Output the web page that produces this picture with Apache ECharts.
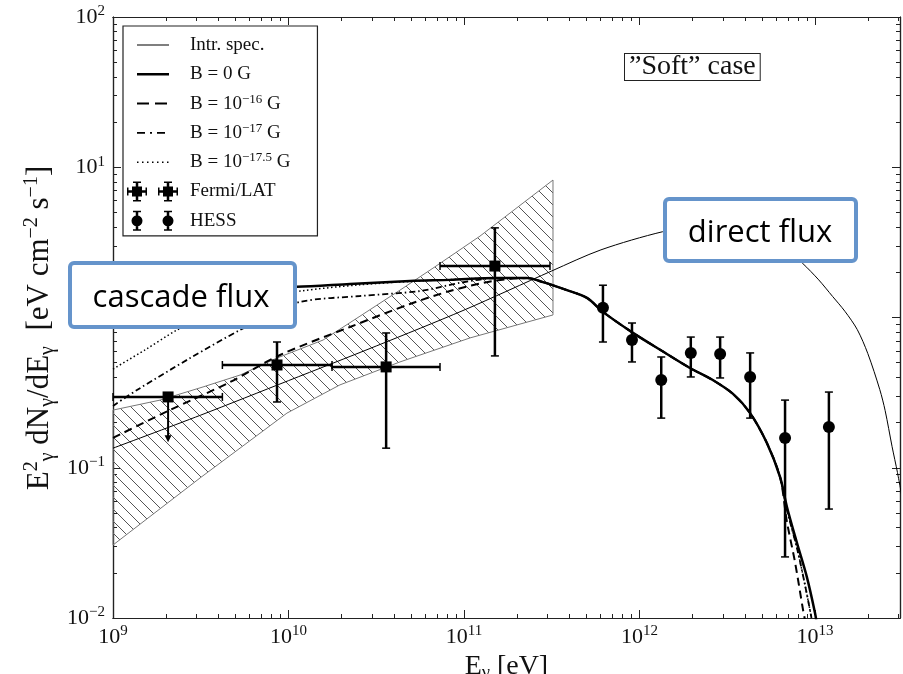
<!DOCTYPE html>
<html>
<head>
<meta charset="utf-8">
<script src="https://cdn.jsdelivr.net/npm/echarts@6/dist/echarts.min.js"></script>
<style>
  html, body { margin: 0; padding: 0; background: #fff; }
  #chart { width: 903px; height: 674px; }
</style>
</head>
<body>
<div id="chart"></div>
<script>
// Photon energy E [eV] and flux E^2 dN/dE [eV cm^-2 s^-1]

// axis ranges and decade tick exponents
const X_MIN = 1e9, X_MAX = 3.05e13;
const Y_MIN = 1e-2, Y_MAX = 1e2;
const xTickExp = [9, 10, 11, 12, 13];
const yTickExp = [-2, -1, 0, 1, 2];

// intrinsic spectrum
const intrE = [1e9, 3.16e9, 1e10, 3.16e10, 1e11, 3.16e11, 6.03e11, 1.35e12, 2.24e12, 3.72e12, 5.5e12, 8.51e12, 1.05e13, 1.26e13, 1.48e13, 1.74e13, 2.0e13, 2.34e13, 2.51e13, 2.75e13, 2.95e13, 3.16e13];
const intrF = [0.135, 0.224, 0.380, 0.646, 1.12, 2.04, 2.82, 3.72, 4.07, 4.17, 3.63, 2.29, 1.78, 1.38, 1.10, 0.832, 0.575, 0.331, 0.240, 0.138, 0.093, 0.060];

// observed spectrum, B = 0 G
const b0E = [1e9, 3.13e9, 1.117e10, 2.24e10, 4.92e10, 8.32e10, 1.54e11, 2.29e11, 2.82e11, 3.86e11, 5.02e11, 6.19e11, 9.18e11, 1.31e12, 1.94e12, 2.6e12, 3.41e12, 4.27e12, 5.32e12, 6.32e12, 6.92e12, 7.89e12, 8.99e12, 1.0e13, 1.026e13];
const b0F = [1.48, 1.52, 1.60, 1.67, 1.75, 1.78, 1.83, 1.83, 1.72, 1.52, 1.35, 1.09, 0.79, 0.61, 0.461, 0.385, 0.310, 0.231, 0.146, 0.0868, 0.0548, 0.0316, 0.0187, 0.0108, 0.0090];

// B = 1e-16 G
const b16E = [1e9, 2.11e9, 4.65e9, 8.95e9, 2.24e10, 4.92e10, 8.32e10, 1.46e11, 2.29e11, 2.82e11, 3.86e11, 5.02e11, 6.19e11, 9.18e11, 1.31e12, 1.94e12, 2.6e12, 3.41e12, 4.27e12, 5.32e12, 6.32e12, 6.92e12, 7.69e12, 8.55e12, 8.77e12];
const b16F = [0.158, 0.242, 0.372, 0.563, 0.865, 1.23, 1.50, 1.75, 1.83, 1.72, 1.52, 1.35, 1.09, 0.79, 0.61, 0.461, 0.385, 0.310, 0.231, 0.146, 0.0868, 0.0436, 0.0236, 0.0113, 0.0097];

// B = 1e-17 G
const b17E = [1e9, 1.37e9, 2.75e9, 5.30e9, 7.85e9, 1.164e10, 2.55e10, 5.61e10, 9.48e10, 1.54e11, 2.29e11, 2.82e11, 3.86e11, 5.02e11, 6.19e11, 9.18e11, 1.31e12, 1.94e12, 2.6e12, 3.41e12, 4.27e12, 5.32e12, 6.32e12, 6.92e12, 7.89e12, 8.77e12, 9.55e12];
const b17F = [0.258, 0.329, 0.537, 0.826, 1.02, 1.27, 1.39, 1.50, 1.70, 1.83, 1.83, 1.72, 1.52, 1.35, 1.09, 0.79, 0.61, 0.461, 0.385, 0.310, 0.231, 0.146, 0.0868, 0.0524, 0.0292, 0.0166, 0.0100];

// B = 1e-17.5 G
const b175E = [1e9, 1.52e9, 2.32e9, 4.07e9, 6.89e9, 1.164e10, 2.55e10, 5.61e10, 1.54e11, 2.29e11, 2.82e11, 3.86e11, 5.02e11, 6.19e11, 9.18e11, 1.31e12, 1.94e12, 2.6e12, 3.41e12, 4.27e12, 5.32e12, 6.32e12, 6.92e12, 7.89e12, 8.77e12, 9.55e12];
const b175F = [0.454, 0.608, 0.826, 1.12, 1.35, 1.50, 1.65, 1.75, 1.83, 1.83, 1.72, 1.52, 1.35, 1.09, 0.79, 0.61, 0.461, 0.385, 0.310, 0.231, 0.146, 0.0868, 0.0524, 0.0292, 0.0166, 0.0100];

// Fermi/LAT butterfly (upper and lower envelope)
const bandUpE = [1e9, 1.854e9, 3.258e9, 5.297e9, 8.59e9, 1.574e10, 2.553e10, 4.315e10, 6.653e10, 1.233e11, 3.214e11];
const bandUpF = [0.242, 0.282, 0.345, 0.414, 0.537, 0.708, 1.02, 1.52, 2.13, 3.48, 8.22];
const bandLoE = [1e9, 3.133e9, 9.795e9, 1.963e10, 4.315e10, 1.081e11, 3.214e11];
const bandLoF = [0.0306, 0.0855, 0.231, 0.356, 0.506, 0.731, 1.04];

// Fermi/LAT points (first one is an upper limit)
const fermiE   = [2.06e9, 8.6e9, 3.6e10, 1.50e11];
const fermiF   = [0.296, 0.483, 0.469, 2.20];
const fermiElo = [1e9, 4.2e9, 1.77e10, 7.3e10];
const fermiEhi = [4.2e9, 1.77e10, 7.3e10, 3.09e11];
const fermiFlo = [0.148, 0.274, 0.135, 0.555];
const fermiFhi = [0.296, 0.687, 0.789, 3.95];
const fermiUL  = [true, false, false, false];

// HESS points
const hessE   = [6.19e11, 9.06e11, 1.33e12, 1.96e12, 2.88e12, 4.27e12, 6.75e12, 1.20e13];
const hessF   = [1.16, 0.708, 0.384, 0.581, 0.571, 0.402, 0.158, 0.187];
const hessFlo = [0.687, 0.506, 0.214, 0.402, 0.396, 0.214, 0.0255, 0.0531];
const hessFhi = [1.64, 0.919, 0.546, 0.741, 0.741, 0.581, 0.282, 0.319];

// ---------------------------------------------------------------------------
const LOG = Math.log10;
const serif = '"Liberation Serif", "DejaVu Serif", serif';
const ink = '#111';
const frameColor = '#222';

const pairs = (E, F) => E.map((e, i) => [LOG(e), LOG(F[i])]);

function minorTicks(lo, hi, maxV) {
  const out = [];
  for (let d = lo; d <= hi; d++) for (let k = 2; k <= 9; k++) {
    const v = d + LOG(k);
    if (v < maxV) out.push(v);
  }
  return out;
}

function powLabel(v) {
  const n = Math.round(v);
  return '{b|10}{s|' + (n < 0 ? '\u2212' + (-n) : n) + '}';
}
const tickRich = {
  b: { fontFamily: serif, fontSize: 22, lineHeight: 26, color: ink },
  s: { fontFamily: serif, fontSize: 15, lineHeight: 15, verticalAlign: 'top', color: ink }
};

function makeAxis(dim, position, lo, hi, ticks, len, labelValues) {
  const a = {
    type: 'value', position, min: lo, max: hi,
    splitLine: { show: false },
    axisLine: { show: true, onZero: false, lineStyle: { color: frameColor, width: 1.2 } },
    axisTick: { show: true, inside: true, length: len, customValues: ticks, lineStyle: { color: frameColor, width: 1 } },
    axisLabel: { show: false }
  };
  if (labelValues) {
    a.axisLabel = { show: true, customValues: labelValues, margin: dim === 'x' ? 6 : 8, formatter: powLabel, rich: tickRich };
  }
  return a;
}

const xLo = LOG(X_MIN), xHi = LOG(X_MAX), yLo = LOG(Y_MIN), yHi = LOG(Y_MAX);
const xMinor = minorTicks(9, 13, xHi);
const yMinor = minorTicks(-2, 1, yHi);

const xAxes = [
  makeAxis('x', 'bottom', xLo, xHi, xTickExp, 8, xTickExp),
  makeAxis('x', 'bottom', xLo, xHi, xMinor, 4),
  makeAxis('x', 'top', xLo, xHi, xTickExp, 8),
  makeAxis('x', 'top', xLo, xHi, xMinor, 4)
];
xAxes[0].name = '{m|E}{u|\u03b3}{m| [eV]}';
xAxes[0].nameLocation = 'middle';
xAxes[0].nameGap = 27;
xAxes[0].nameTextStyle = {
  rich: {
    m: { fontFamily: serif, fontSize: 28, lineHeight: 30, color: ink },
    u: { fontFamily: serif, fontSize: 18, lineHeight: 18, verticalAlign: 'bottom', color: ink }
  }
};
const yAxes = [
  makeAxis('y', 'left', yLo, yHi, yTickExp, 8, yTickExp),
  makeAxis('y', 'left', yLo, yHi, yMinor, 4),
  makeAxis('y', 'right', yLo, yHi, yTickExp, 8),
  makeAxis('y', 'right', yLo, yHi, yMinor, 4)
];

// hatch pattern for the Fermi/LAT butterfly
function hatchPattern(step, color) {
  const c = document.createElement('canvas');
  c.width = c.height = step;
  const g = c.getContext('2d');
  g.strokeStyle = color;
  g.lineWidth = 1;
  g.beginPath();
  for (const o of [-step, 0, step]) { g.moveTo(o, 0); g.lineTo(o + step, step); }
  g.stroke();
  return c;
}
const hatch = hatchPattern(12, '#555');

const bandUp = pairs(bandUpE, bandUpF);
const bandLo = pairs(bandLoE, bandLoF);

function curve(name, E, F, width, type) {
  return {
    type: 'line', name, data: pairs(E, F), symbol: 'none', showSymbol: false,
    smooth: 0.3, color: '#000', z: 4, silent: true,
    lineStyle: { color: '#000', width, type }
  };
}

const capH = 4;
function vLine(x, y1, y2, w) { return { type: 'line', shape: { x1: x, y1, x2: x, y2 }, style: { stroke: '#000', lineWidth: w } }; }
function hLine(x1, x2, y, w) { return { type: 'line', shape: { x1, y1: y, x2, y2: y }, style: { stroke: '#000', lineWidth: w } }; }

const series = [
  {
    type: 'custom', name: 'butterfly', silent: true, z: 1,
    data: [bandUp[0]],
    renderItem: (params, api) => {
      const pts = bandUp.map(p => api.coord(p)).concat(bandLo.slice().reverse().map(p => api.coord(p)));
      return { type: 'polygon', shape: { points: pts }, style: { fill: { image: hatch, repeat: 'repeat' }, stroke: '#777', lineWidth: 1 } };
    }
  },
  curve('Intr. spec.', intrE, intrF, 1, 'solid'),
  curve('B = 0 G', b0E, b0F, 2.5, 'solid'),
  curve('B = 1e-16 G', b16E, b16F, 2, [8, 5]),
  curve('B = 1e-17 G', b17E, b17F, 1.8, [6, 3, 1.5, 3]),
  curve('B = 1e-17.5 G', b175E, b175F, 1.5, [1.5, 2.5]),
  {
    type: 'custom', name: 'Fermi/LAT', silent: true, z: 6, color: '#000',
    data: pairs(fermiE, fermiF),
    renderItem: (params, api) => {
      const i = params.dataIndex;
      const c = api.coord([LOG(fermiE[i]), LOG(fermiF[i])]);
      const xl = api.coord([LOG(fermiElo[i]), LOG(fermiF[i])])[0];
      const xh = api.coord([LOG(fermiEhi[i]), LOG(fermiF[i])])[0];
      const yl = api.coord([LOG(fermiE[i]), LOG(fermiFlo[i])])[1];
      const yh = api.coord([LOG(fermiE[i]), LOG(fermiFhi[i])])[1];
      const ch = [
        hLine(xl, xh, c[1], 2.5),
        vLine(xl, c[1] - capH, c[1] + capH, 1.5),
        vLine(xh, c[1] - capH, c[1] + capH, 1.5)
      ];
      if (fermiUL[i]) {
        ch.push(vLine(c[0], c[1], yl - 6, 2));
        ch.push({ type: 'polygon', shape: { points: [[c[0] - 3.5, yl - 7], [c[0] + 3.5, yl - 7], [c[0], yl]] }, style: { fill: '#000' } });
      } else {
        ch.push(vLine(c[0], yh, yl, 2.5));
        ch.push(hLine(c[0] - capH, c[0] + capH, yh, 1.5));
        ch.push(hLine(c[0] - capH, c[0] + capH, yl, 1.5));
      }
      ch.push({ type: 'rect', shape: { x: c[0] - 5.5, y: c[1] - 5.5, width: 11, height: 11 }, style: { fill: '#000' } });
      return { type: 'group', children: ch };
    }
  },
  {
    type: 'custom', name: 'HESS', silent: true, z: 6, color: '#000',
    data: pairs(hessE, hessF),
    renderItem: (params, api) => {
      const i = params.dataIndex;
      const c = api.coord([LOG(hessE[i]), LOG(hessF[i])]);
      const yl = api.coord([LOG(hessE[i]), LOG(hessFlo[i])])[1];
      const yh = api.coord([LOG(hessE[i]), LOG(hessFhi[i])])[1];
      return {
        type: 'group', children: [
          vLine(c[0], yh, yl, 2.5),
          hLine(c[0] - capH, c[0] + capH, yh, 1.5),
          hLine(c[0] - capH, c[0] + capH, yl, 1.5),
          { type: 'circle', shape: { cx: c[0], cy: c[1], r: 6 }, style: { fill: '#000' } }
        ]
      };
    }
  }
];

// legend icons, drawn in a 52 x 22 box
const corners = 'M0 0h0.05v0.05h-0.05z M51.95 21.95h0.05v0.05h-0.05z ';
function rectP(x, y, w, h) { return 'M' + x + ' ' + y + 'h' + w + 'v' + h + 'h' + (-w) + 'z '; }
function circP(cx, cy, r) { return 'M' + (cx - r) + ' ' + cy + 'a' + r + ' ' + r + ' 0 1 1 ' + (2 * r) + ' 0a' + r + ' ' + r + ' 0 1 1 ' + (-2 * r) + ' 0z '; }
let dots = '';
for (let x = 10; x <= 40; x += 5) dots += rectP(x, 10.25, 1.5, 1.5);
let fermiIcon = '', hessIcon = '';
for (const cx of [10, 41]) {
  fermiIcon += rectP(cx - 10, 9.75, 20, 2.5) + rectP(cx - 1.25, 1, 2.5, 20) + rectP(cx - 5, 6, 10, 10)
    + rectP(cx - 10, 7, 1.5, 8) + rectP(cx + 8.5, 7, 1.5, 8) + rectP(cx - 4, 1, 8, 1.5) + rectP(cx - 4, 19.5, 8, 1.5);
  hessIcon += rectP(cx - 1.25, 1, 2.5, 20) + rectP(cx - 4, 1, 8, 1.5) + rectP(cx - 4, 19.5, 8, 1.5) + circP(cx, 11, 5.5);
}
const icons = {
  'Intr. spec.': corners + rectP(10, 10.5, 32, 1),
  'B = 0 G': corners + rectP(10, 9.75, 32, 2.5),
  'B = 1e-16 G': corners + rectP(10, 10, 12, 2) + rectP(28, 10, 12, 2),
  'B = 1e-17 G': corners + rectP(10, 10.1, 8, 1.8) + rectP(23, 10.1, 2, 1.8) + rectP(30, 10.1, 8, 1.8),
  'B = 1e-17.5 G': corners + dots,
  'Fermi/LAT': corners + fermiIcon,
  'HESS': corners + hessIcon
};
const legendText = {
  'Intr. spec.': '{t|Intr. spec.}',
  'B = 0 G': '{t|B = 0 G}',
  'B = 1e-16 G': '{t|B = 10}{s|\u221216}{t| G}',
  'B = 1e-17 G': '{t|B = 10}{s|\u221217}{t| G}',
  'B = 1e-17.5 G': '{t|B = 10}{s|\u221217.5}{t| G}',
  'Fermi/LAT': '{t|Fermi/LAT}',
  'HESS': '{t|HESS}'
};

const yTitle = '{m|E}{p|2}{u|\u03b3}{m| dN}{u|\u03b3}{m|/dE}{u|\u03b3}{m|  [eV cm}{p|\u22122}{m| s}{p|\u22121}{m|]}';

const boxFont = '31px "Open Sans", Lato, sans-serif';
const boxBlue = '#6594CB';

const option = {
  animation: false,
  grid: { left: 113, right: 3, top: 17, bottom: 56, outerBoundsMode: 'none' },
  xAxis: xAxes,
  yAxis: yAxes,
  legend: {
    left: 123, top: 26, orient: 'vertical', z: 20,
    padding: [8, 27, 4, 4],
    borderColor: '#222', borderWidth: 1.2, backgroundColor: '#fff',
    itemWidth: 52, itemHeight: 22, itemGap: 7.3,
    selectedMode: false,
    itemStyle: { borderWidth: 0 },
    data: Object.keys(icons).map(n => ({ name: n, icon: 'path://' + icons[n] })),
    formatter: n => legendText[n],
    textStyle: {
      padding: [0, 0, 0, 6],
      rich: {
        t: { fontFamily: serif, fontSize: 19, lineHeight: 22, color: ink },
        s: { fontFamily: serif, fontSize: 13, lineHeight: 13, verticalAlign: 'top', color: ink }
      }
    }
  },
  graphic: [
    {
      type: 'text', x: 40, y: 328, rotation: Math.PI / 2, z: 20,
      style: {
        text: yTitle, align: 'center', verticalAlign: 'middle',
        rich: {
          m: { fontFamily: serif, fontSize: 31, lineHeight: 36, fill: ink },
          p: { fontFamily: serif, fontSize: 20, lineHeight: 20, verticalAlign: 'top', fill: ink },
          u: { fontFamily: serif, fontSize: 20, lineHeight: 20, verticalAlign: 'bottom', fill: ink }
        }
      }
    },
    {
      type: 'text', x: 625, y: 54, z: 20,
      style: {
        text: '\u201DSoft\u201D case', font: '28px ' + serif, fill: ink,
        align: 'left', verticalAlign: 'top', lineHeight: 24,
        padding: [1, 4, 1, 4], borderColor: '#222', borderWidth: 1, backgroundColor: '#fff'
      }
    },
    { type: 'rect', z: 100, shape: { x: 70, y: 263, width: 225, height: 64, r: 4 }, style: { fill: '#fff', stroke: boxBlue, lineWidth: 4 } },
    { type: 'text', z: 101, x: 181, y: 298, style: { text: 'cascade flux', font: boxFont, fill: '#000', align: 'center', verticalAlign: 'middle' } },
    { type: 'rect', z: 100, shape: { x: 665, y: 199, width: 191, height: 62, r: 4 }, style: { fill: '#fff', stroke: boxBlue, lineWidth: 4 } },
    { type: 'text', z: 101, x: 760, y: 233, style: { text: 'direct flux', font: boxFont, fill: '#000', align: 'center', verticalAlign: 'middle' } }
  ],
  series
};

const chart = echarts.init(document.getElementById('chart'), null, { renderer: 'canvas' });
chart.setOption(option);
</script>
</body>
</html>
